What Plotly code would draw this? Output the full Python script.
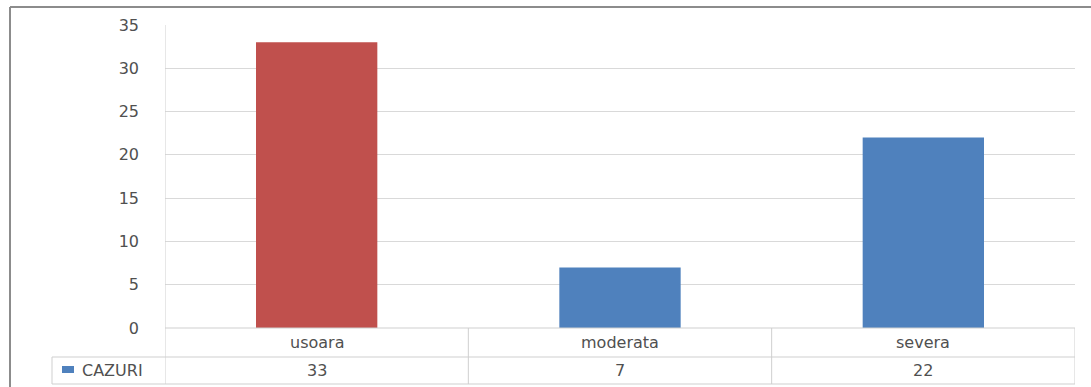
import plotly.graph_objects as go

categories = ["usoara", "moderata", "severa"]
cazuri = [33, 7, 22]
bar_colors = ["#C0504D", "#4F81BD", "#4F81BD"]
series_name = "CAZURI"
y_ticks = [0, 5, 10, 15, 20, 25, 30, 35]

W, H = 1091, 387
L, R, T, B = 165, 16, 25, 59
plot_w = W - L - R
plot_h = H - T - B
grid_c = "#d9d9d9"
text_c = "#505050"
font_fam = "'DejaVu Sans', Verdana, sans-serif"
font_size = 16

fig = go.Figure(
    go.Bar(
        x=list(range(len(categories))),
        y=cazuri,
        marker=dict(color=bar_colors, line=dict(width=0)),
        name=series_name,
        showlegend=False,
    )
)


def px_x(x):
    """absolute pixel x -> paper x"""
    return (x - L) / plot_w


def px_y(y):
    """absolute pixel y -> paper y"""
    return 1 - (y - T) / plot_h


row1 = px_y(357)
row2 = px_y(384)
legend_left = px_x(52)
n = len(categories)
shapes = []
line = dict(color="#cfcfcf", width=1)
# table grid
shapes.append(dict(type="line", xref="paper", yref="paper", x0=legend_left, x1=1, y0=row1, y1=row1, line=line))
shapes.append(dict(type="line", xref="paper", yref="paper", x0=legend_left, x1=1, y0=row2, y1=row2, line=line))
shapes.append(dict(type="line", xref="paper", yref="paper", x0=0, x1=1, y0=0, y1=0, line=line))
shapes.append(dict(type="line", xref="paper", yref="paper", x0=legend_left, x1=legend_left, y0=row1, y1=row2, line=line))
for i in range(n + 1):
    x = i - 0.5
    y_top = 1 if i == 0 else 0
    shapes.append(dict(type="line", xref="x", yref="paper", x0=x, x1=x, y0=y_top, y1=row2, line=line))
# outer chart frame
fx = px_x(10)
fy = px_y(7)
shapes.append(dict(type="line", xref="paper", yref="paper", x0=fx, x1=px_x(W + 2), y0=fy, y1=fy,
                   line=dict(color="#8c8c8c", width=2)))
shapes.append(dict(type="line", xref="paper", yref="paper", x0=fx, x1=fx, y0=fy, y1=px_y(H + 2),
                   line=dict(color="#8c8c8c", width=2)))
# legend key
shapes.append(dict(type="rect", xref="paper", yref="paper", x0=px_x(62), x1=px_x(74),
                   y0=px_y(373), y1=px_y(366), fillcolor="#4F81BD", line=dict(width=0)))

tf = dict(size=font_size, color=text_c, family=font_fam)
annotations = []
for i, (c, v) in enumerate(zip(categories, cazuri)):
    annotations.append(dict(x=i, xref="x", y=(0 + row1) / 2, yref="paper", text=c, showarrow=False,
                            font=tf, yanchor="middle"))
    annotations.append(dict(x=i, xref="x", y=(row1 + row2) / 2, yref="paper", text=str(v), showarrow=False,
                            font=tf, yanchor="middle"))
annotations.append(dict(x=px_x(80), xref="paper", y=(row1 + row2) / 2, yref="paper", text=series_name,
                        showarrow=False, xanchor="left", yanchor="middle", font=tf))

fig.update_layout(
    width=W, height=H,
    margin=dict(l=L, r=R, t=T, b=B),
    paper_bgcolor="white", plot_bgcolor="white",
    bargap=0.6,
    shapes=shapes,
    annotations=annotations,
    xaxis=dict(range=[-0.5, n - 0.5], showticklabels=False, showgrid=False, zeroline=False, ticks=""),
    yaxis=dict(range=[0, 35], tickvals=y_ticks, showgrid=True, gridcolor=grid_c, gridwidth=1,
               zeroline=False, ticks="", ticklabelstandoff=25, tickfont=tf),
)

fig.write_html("out.html")
